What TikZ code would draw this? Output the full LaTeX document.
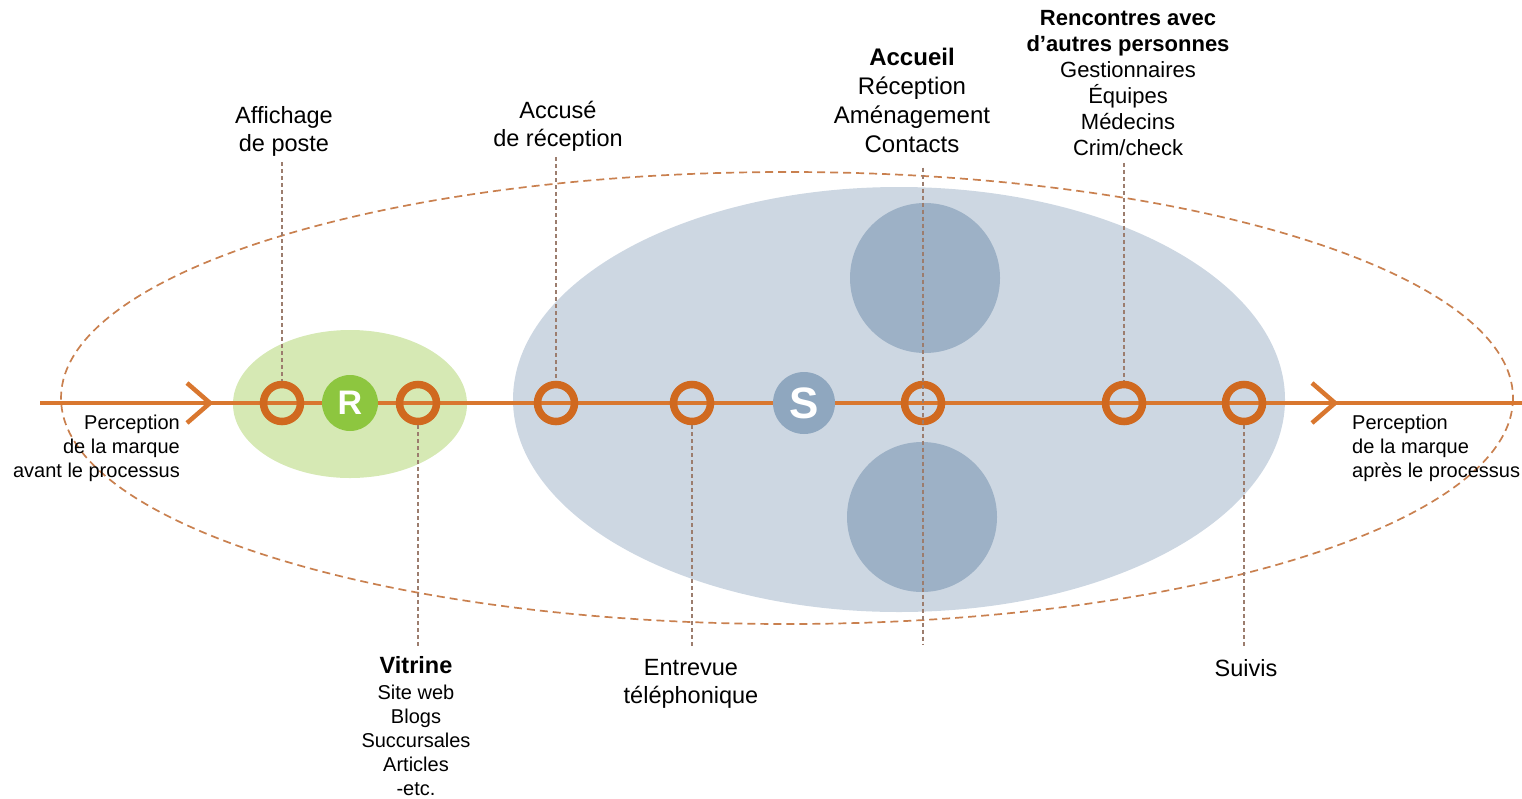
\documentclass[tikz,border=0pt]{standalone}
\usepackage{fontspec}
\setmainfont{Liberation Sans}
\usepackage{xcolor}
\usepackage{tikz}

\definecolor{lineorange}{HTML}{D9772F}
\definecolor{ringorange}{HTML}{D0691F}
\definecolor{paleGreen}{HTML}{D6E9B4}
\definecolor{Rgreen}{HTML}{8DC63F}
\definecolor{paleGray}{HTML}{CDD7E2}
\definecolor{midGray}{HTML}{9DB1C6}
\definecolor{Sgray}{HTML}{8FA7BF}
\definecolor{dashBrown}{HTML}{C9804F}
\definecolor{tickBrown}{HTML}{9C7D6E}

\tikzset{
    ring/.style={circle, draw=ringorange, line width=7.5pt, minimum size=37pt, inner sep=0pt},
    letterdot/.style={circle, inner sep=0pt, text=white},
    chevron/.style={lineorange, line width=4.5pt},
    vline/.style={draw=tickBrown, line width=1.4pt, dash pattern=on 4pt off 3pt},
    lbl/.style={align=center, inner sep=6pt, font=\fontsize{23.5}{28}\selectfont},
    small/.style={inner sep=0pt, font=\fontsize{20}{24}\selectfont}
}

\begin{document}
\begin{tikzpicture}[x=1pt, y=-1pt]
        \useasboundingbox (0,0) rectangle (1522,798);

        % zones
        \fill[paleGray] (899,399.5) ellipse (386 and 212.5);
        \fill[paleGreen] (350,404) ellipse (117 and 74);
        \fill[midGray] (925,278) circle (75);
        \fill[midGray] (922,517) circle (75);
        \draw[dashBrown, line width=1.7pt, dash pattern=on 8pt off 5pt] (787,398) ellipse (726 and 226);

        % timeline
        \coordinate (start) at (40,403);
        \coordinate (finish) at (1522,403);
        \draw[lineorange, line width=4pt] (start) -- (finish);
        \draw[chevron] (187,383) -- (210,403) -- (187,423);
        \draw[chevron] (1312,383) -- (1335,403) -- (1312,423);

        \node[ring] (affiche) at (282,403) {};
        \node[ring] (vitrine) at (418,403) {};
        \node[ring] (accuse) at (556,403) {};
        \node[ring] (entrevue) at (692,403) {};
        \node[ring] (accueil) at (923,403) {};
        \node[ring] (rencontre) at (1124,403) {};
        \node[ring] (suivi) at (1244,403) {};

        \node[letterdot, fill=Rgreen, minimum size=56pt,
            font=\bfseries\fontsize{34}{34}\selectfont] (R) at (350,403) {R};
        \node[letterdot, fill=Sgray, minimum size=62pt,
            font=\bfseries\fontsize{44}{44}\selectfont] (S) at (804,403) {S};

        % labels
        \node[lbl] (t-affiche) at (284,131) {Affichage\\de poste};
        \node[lbl] (t-accuse) at (558,126) {Accusé\\de réception};
        \node[lbl, inner sep=15pt, font=\fontsize{24}{29}\selectfont] (t-accueil) at (912,100)
            {\textbf{Accueil}\\Réception\\Aménagement\\Contacts};
        \node[lbl, inner sep=7pt, font=\fontsize{22}{26}\selectfont] (t-rencontre) at (1128,83)
            {\textbf{Rencontres avec}\\\textbf{d’autres personnes}\\Gestionnaires\\Équipes\\Médecins\\Crim/check};
        \node[lbl, inner sep=8pt, font=\fontsize{20}{24}\selectfont] (t-vitrine) at (416,726)
            {{\bfseries\fontsize{23.5}{24}\selectfont Vitrine}\\[2pt]Site web\\Blogs\\Succursales\\Articles\\-etc.};
        \node[lbl, inner sep=11pt] (t-entrevue) at (691,684) {Entrevue\\téléphonique};
        \node[lbl, inner sep=11pt] (t-suivi) at (1246,668) {Suivis};

        \node[small, align=right, anchor=east] (avant) at (180,448)
            {Perception\\de la marque\\avant le processus};
        \node[small, align=left, anchor=west] (apres) at (1352,448)
            {Perception\\de la marque\\après le processus};

        % links
        \coordinate (accueil-end) at (923,645);
        \draw[vline] (t-affiche.south -| affiche) -- (affiche);
        \draw[vline] (t-accuse.south -| accuse) -- (accuse);
        \draw[vline] (t-accueil.south -| accueil) -- (accueil-end);
        \draw[vline] (t-rencontre.south -| rencontre) -- (rencontre);
        \draw[vline] (vitrine) -- (vitrine |- t-vitrine.north);
        \draw[vline] (entrevue) -- (entrevue |- t-entrevue.north);
        \draw[vline] (suivi) -- (suivi |- t-suivi.north);
    \end{tikzpicture}
\end{document}
